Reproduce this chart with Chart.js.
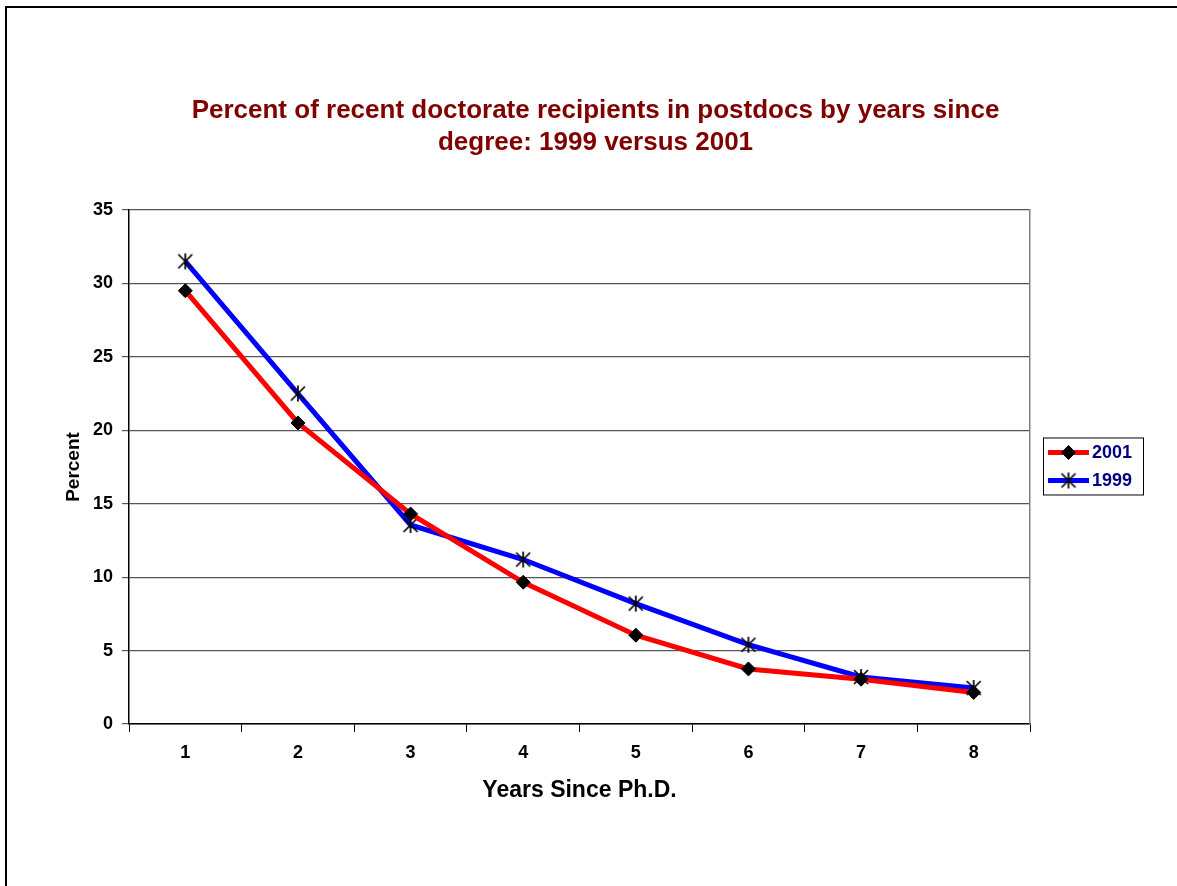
<!DOCTYPE html>
<html>
<head>
<meta charset="utf-8">
<script src="https://cdn.jsdelivr.net/npm/chart.js@4/dist/chart.umd.min.js"></script>
<style>
  html, body { margin: 0; padding: 0; background: #fff; overflow: hidden; }
  #frame { position: absolute; left: 5px; top: 6px; width: 2000px; height: 2000px;
           border-top: 2px solid #000; border-left: 2px solid #000; }
  #wrap { position: absolute; left: 14px; top: 0; width: 1163px; height: 886px; }
</style>
</head>
<body>
<div id="frame"></div>
<div id="wrap"><canvas id="chart"></canvas></div>
<script>
const years = ["1", "2", "3", "4", "5", "6", "7", "8"];
const pct2001 = [29.5, 20.5, 14.3, 9.65, 6.05, 3.75, 3.05, 2.15];
const pct1999 = [31.5, 22.5, 13.55, 11.2, 8.2, 5.4, 3.2, 2.45];
const yMin = 0, yMax = 35, yStep = 5;

const FONT = "'Liberation Sans', Arial, sans-serif";

// star marker: X with a vertical bar
function makeStar() {
  const c = document.createElement("canvas");
  c.width = 18; c.height = 18;
  const g = c.getContext("2d");
  g.strokeStyle = "#000";
  g.lineWidth = 1.7;
  g.beginPath();
  g.moveTo(2, 2); g.lineTo(16, 16);
  g.moveTo(16, 2); g.lineTo(2, 16);
  g.moveTo(9, 1); g.lineTo(9, 17);
  g.stroke();
  return c;
}
const star = makeStar();

// boxed legend on the right
const boxLegend = {
  id: "boxLegend",
  afterDraw(chart) {
    const { ctx, chartArea: a } = chart;
    const left = a.right + 13, w = 100, h = 57;
    const top = (a.top + a.bottom) / 2 - h / 2 - 1;
    ctx.save();
    ctx.strokeStyle = "#000";
    ctx.lineWidth = 1;
    ctx.strokeRect(left + 0.5, top + 0.5, w, h);
    chart.data.datasets.forEach((ds, i) => {
      const y = top + 15 + i * 28;
      ctx.strokeStyle = ds.borderColor;
      ctx.lineWidth = 5;
      ctx.beginPath();
      ctx.moveTo(left + 5, y);
      ctx.lineTo(left + 46, y);
      ctx.stroke();
      ctx.fillStyle = "#000";
      ctx.strokeStyle = "#000";
      ctx.lineWidth = 1;
      Chart.helpers.drawPoint(ctx, {
        pointStyle: ds.pointStyle, radius: ds.pointRadius, rotation: 0, borderWidth: 1
      }, left + 25.5, y);
      ctx.fillStyle = "#000080";
      ctx.font = "bold 18px " + FONT;
      ctx.textBaseline = "middle";
      ctx.textAlign = "left";
      ctx.fillText(ds.label, left + 49, y + 1);
    });
    ctx.restore();
  }
};

new Chart(document.getElementById("chart"), {
  type: "line",
  data: {
    labels: years,
    datasets: [
      {
        label: "2001",
        data: pct2001,
        borderColor: "#ff0000",
        backgroundColor: "#000",
        borderWidth: 5,
        pointStyle: "rectRot",
        pointRadius: 7,
        pointBorderColor: "#000",
        pointBackgroundColor: "#000",
        pointBorderWidth: 1,
        tension: 0,
      },
      {
        label: "1999",
        data: pct1999,
        borderColor: "#0000ff",
        backgroundColor: "#000",
        borderWidth: 5,
        pointStyle: star,
        pointRadius: 8,
        tension: 0,
      },
    ],
  },
  options: {
    responsive: true,
    maintainAspectRatio: false,
    animation: false,
    layout: { padding: 0 },
    plugins: {
      legend: { display: false },
      tooltip: { enabled: false },
      title: {
        display: true,
        text: [
          "Percent of recent doctorate recipients in postdocs by years since",
          "degree: 1999 versus 2001",
        ],
        color: "#800000",
        font: { family: FONT, size: 26, weight: "bold", lineHeight: 1.23 },
        padding: { top: 95, bottom: 51 },
      },
    },
    scales: {
      x: {
        offset: true,
        grid: {
          offset: true,
          drawOnChartArea: false,
          drawTicks: true,
          tickLength: 8,
          color: "#000",
        },
        border: { color: "#000", width: 1.5 },
        ticks: { color: "#000", padding: 10, font: { family: FONT, size: 18, weight: "bold" } },
        title: {
          display: true,
          text: "Years Since Ph.D.",
          color: "#000",
          font: { family: FONT, size: 23, weight: "bold" },
          padding: { top: 82, bottom: 82 },
        },
        afterFit(s) { s.height = 162; },
      },
      y: {
        min: yMin,
        max: yMax,
        ticks: {
          stepSize: yStep,
          color: "#000",
          padding: 9,
          font: { family: FONT, size: 18, weight: "bold" },
        },
        grid: { color: "#555", lineWidth: 1.2, tickLength: 7 },
        border: { color: "#000", width: 1.5 },
        title: {
          display: true,
          text: "Percent",
          color: "#000",
          font: { family: FONT, size: 19, weight: "bold" },
          padding: { top: 48, bottom: 48 },
        },
        afterFit(s) { s.width = 115; },
      },
      // right edge of the plot area; leaves room for the legend
      yRight: {
        position: "right",
        min: yMin,
        max: yMax,
        grid: { drawOnChartArea: false, drawTicks: false },
        border: { color: "#808080", width: 1.5 },
        ticks: { display: false },
        afterFit(s) { s.width = 147; },
      },
    },
  },
  plugins: [boxLegend],
});
</script>
</body>
</html>
